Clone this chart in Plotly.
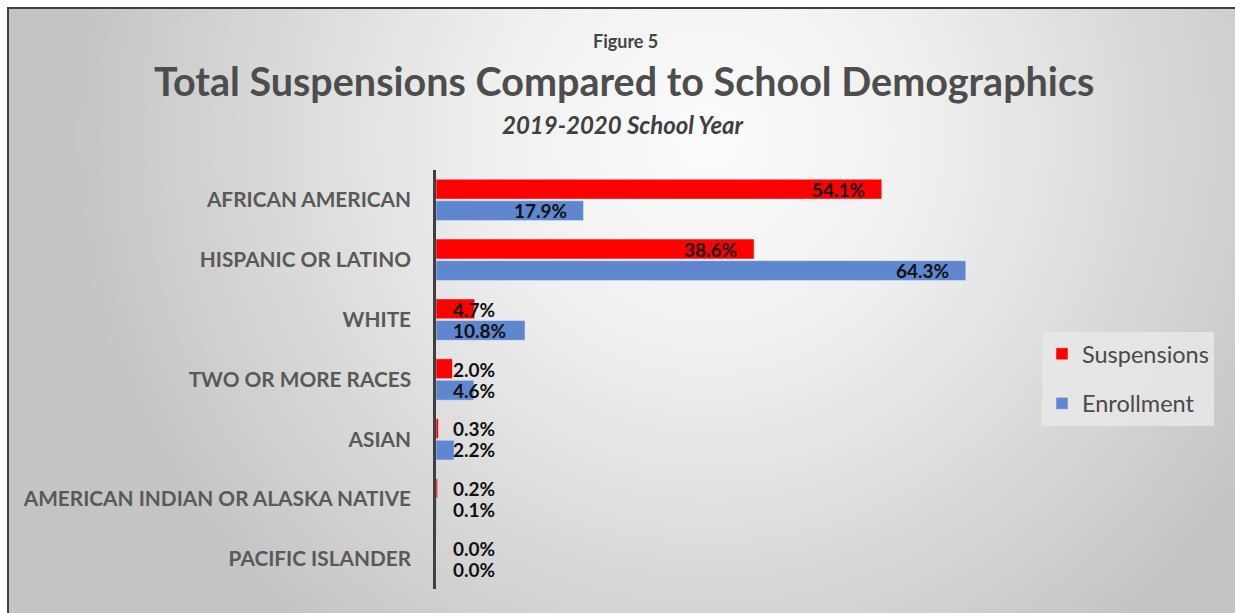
import base64
import plotly.graph_objects as go

# ---- data ----
categories = [
    "AFRICAN AMERICAN",
    "HISPANIC OR LATINO",
    "WHITE",
    "TWO OR MORE RACES",
    "ASIAN",
    "AMERICAN INDIAN OR ALASKA NATIVE",
    "PACIFIC ISLANDER",
]
suspensions = [54.1, 38.6, 4.7, 2.0, 0.3, 0.2, 0.0]
enrollment = [17.9, 64.3, 10.8, 4.6, 2.2, 0.1, 0.0]

W, H = 1235, 613
RED = "#FF0000"
BLUE = "#5F87CF"
GREY_TXT = "#595959"

# soft radial background inside the chart frame
bg_svg = f"""<svg xmlns='http://www.w3.org/2000/svg' width='{W}' height='{H}' viewBox='0 0 {W} {H}'>
<defs><radialGradient id='g' gradientUnits='userSpaceOnUse' cx='700' cy='130' r='640'>
<stop offset='0' stop-color='#fcfcfc'/><stop offset='0.35' stop-color='#efefef'/>
<stop offset='1' stop-color='#c4c4c4'/></radialGradient></defs>
<rect width='{W}' height='{H}' fill='url(#g)'/></svg>"""
bg_uri = "data:image/svg+xml;base64," + base64.b64encode(bg_svg.encode()).decode()

def px(x):
    return x / W

def py(y):
    return 1 - y / H

fig = go.Figure()
fig.add_trace(go.Bar(name="Suspensions", y=categories, x=suspensions, orientation="h",
                     legendgroup="s", marker=dict(color=RED), hoverinfo="x+y"))
fig.add_trace(go.Bar(name="Enrollment", y=categories, x=enrollment, orientation="h",
                     legendgroup="e", marker=dict(color=BLUE), hoverinfo="x+y"))

# value labels: inside the bar end for long bars, next to the axis for short ones
annotations = []
for series, shift in ((suspensions, 10.5), (enrollment, -10.5)):
    for cat, v in zip(categories, series):
        if v >= 15:
            x, anchor, xs = v, "right", -15
        else:
            x, anchor, xs = 0, "left", 15
        annotations.append(dict(x=x, y=cat, xref="x", yref="y", text=f"<b>{v:.1f}%</b>",
                                showarrow=False, xanchor=anchor, xshift=xs, yshift=shift,
                                font=dict(family="Lato", size=19, color="#111111")))

annotations += [
    dict(x=px(625), y=py(41), xref="paper", yref="paper", text="<b>Figure 5</b>",
         showarrow=False, yanchor="middle",
         font=dict(family="Lato", size=18, color="#454545")),
    dict(x=px(624), y=py(81), xref="paper", yref="paper",
         text="<b>Total Suspensions Compared to School Demographics</b>",
         showarrow=False, yanchor="middle",
         font=dict(family="Lato", size=39.5, color="#4d4d4d")),
    dict(x=px(623), y=py(124), xref="paper", yref="paper",
         text="<b><i>2019-2020 School Year</i></b>",
         showarrow=False, yanchor="middle",
         font=dict(family="Lato", size=24, color="#404040")),
]

fig.update_layout(
    width=W, height=H,
    margin=dict(l=0, r=0, t=0, b=0),
    paper_bgcolor="white",
    plot_bgcolor="rgba(0,0,0,0)",
    barmode="group",
    bargap=0.28,
    bargroupgap=0.08,
    showlegend=True,
    legend=dict(x=px(1042), y=py(332), xanchor="left", yanchor="top",
                bgcolor="rgba(232,232,232,0.85)", borderwidth=0,
                font=dict(family="Lato", size=23.5, color="#4a4a4a"),
                traceorder="grouped", tracegroupgap=16,
                itemwidth=30),
    xaxis=dict(domain=[px(436), px(436 + 70 * 8.24)], range=[0, 70],
               showgrid=False, zeroline=False, showticklabels=False, ticks="",
               showline=False, fixedrange=True),
    yaxis=dict(domain=[py(589), py(170)], categoryorder="array", categoryarray=categories,
               autorange="reversed", showgrid=False, zeroline=False, ticks="",
               showline=True, linecolor="#404040", linewidth=2.5,
               ticklabelstandoff=18,
               tickfont=dict(family="Lato", size=20.8, color=GREY_TXT), fixedrange=True),
    annotations=annotations,
    images=[dict(source=bg_uri, xref="paper", yref="paper", x=px(8), y=py(8),
                 sizex=1, sizey=1, xanchor="left", yanchor="top",
                 sizing="stretch", layer="below")],
    shapes=[dict(type="rect", xref="paper", yref="paper", x0=px(8), y0=-0.05,
                 x1=1.05, y1=py(8), line=dict(color="#404040", width=2),
                 fillcolor="rgba(0,0,0,0)")],
)

# bold category labels
fig.update_yaxes(tickvals=categories, ticktext=[f"<b>{c}</b>" for c in categories])

fig.write_html("out.html")
